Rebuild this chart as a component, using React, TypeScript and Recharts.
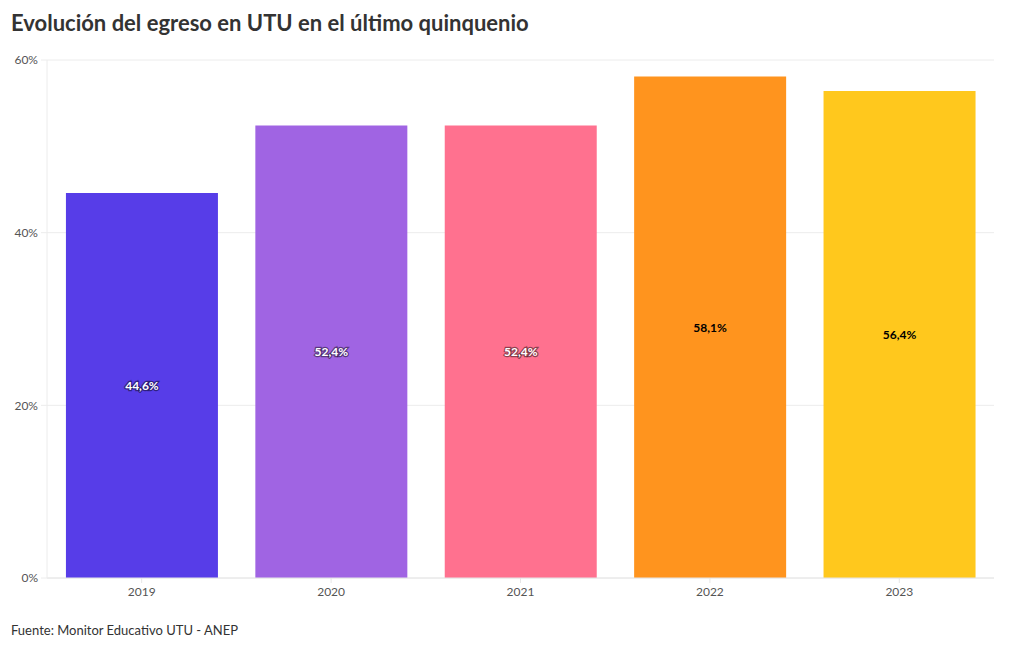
import React from "react";
import { BarChart, Bar, XAxis, YAxis, CartesianGrid, LabelList, Cell } from "recharts";

const years = ["2019", "2020", "2021", "2022", "2023"];
const egreso = [44.6, 52.4, 52.4, 58.1, 56.4];
const colors = ["#573de8", "#a064e3", "#ff718f", "#ff941e", "#ffc81d"];
const labelColors = ["#ffffff", "#ffffff", "#ffffff", "#000000", "#000000"];
const yTicks = [0, 20, 40, 60];

const data = years.map((y, i) => ({ year: y, value: egreso[i], idx: i }));

const FONT = "Lato, 'Noto Sans', sans-serif";

const fmt = (v: number) => v.toFixed(1).replace(".", ",") + "%";

const CenterLabel = (props: any) => {
  const { x, y, width, height, value, index } = props;
  const light = labelColors[index] === "#ffffff";
  return (
    <text
      x={x + width / 2}
      y={y + height / 2}
      textAnchor="middle"
      dominantBaseline="central"
      fontFamily={FONT}
      fontWeight={700}
      fontSize={12}
      fill={labelColors[index]}
      stroke={light ? "rgba(0,0,0,0.45)" : "none"}
      strokeWidth={light ? 2.5 : 0}
      style={{ paintOrder: "stroke" }}
    >
      {fmt(value)}
    </text>
  );
};

export default function App() {
  return (
    <div style={{ position: "relative", width: 1020, height: 650, margin: -8, background: "#fff", fontFamily: FONT }}>
      <div
        style={{
          position: "absolute",
          left: 11,
          top: 9,
          fontSize: 22,
          fontWeight: 700,
          color: "#333333",
          whiteSpace: "nowrap",
        }}
      >
        Evolución del egreso en UTU en el último quinquenio
      </div>
      <div style={{ position: "absolute", left: 0, top: 0 }}>
        <BarChart
          width={1020}
          height={650}
          data={data}
          margin={{ top: 60, right: 26, bottom: 42, left: 0 }}
          barCategoryGap="10%"
        >
          <CartesianGrid vertical={false} stroke="#ececec" />
          <XAxis
            dataKey="year"
            height={30}
            axisLine={{ stroke: "#e6e6e6" }}
            tickLine={{ stroke: "#e6e6e6" }}
            tickSize={5}
            tickMargin={4}
            tick={{ fill: "#555555", fontSize: 12, fontFamily: FONT }}
          />
          <YAxis
            width={47}
            domain={[0, 60]}
            ticks={yTicks}
            axisLine={{ stroke: "#ececec" }}
            tickLine={{ stroke: "#ececec" }}
            tickSize={6}
            tickMargin={3}
            tickFormatter={(v: number) => v + "%"}
            tick={{ fill: "#555555", fontSize: 12, fontFamily: FONT }}
          />
          <Bar dataKey="value" isAnimationActive={false}>
            {data.map((d, i) => (
              <Cell key={d.year} fill={colors[i]} />
            ))}
            <LabelList dataKey="value" content={<CenterLabel />} />
          </Bar>
        </BarChart>
      </div>
      <div
        style={{
          position: "absolute",
          left: 11,
          top: 622,
          fontSize: 13,
          color: "#333333",
          whiteSpace: "nowrap",
        }}
      >
        Fuente: Monitor Educativo UTU - ANEP
      </div>
    </div>
  );
}
